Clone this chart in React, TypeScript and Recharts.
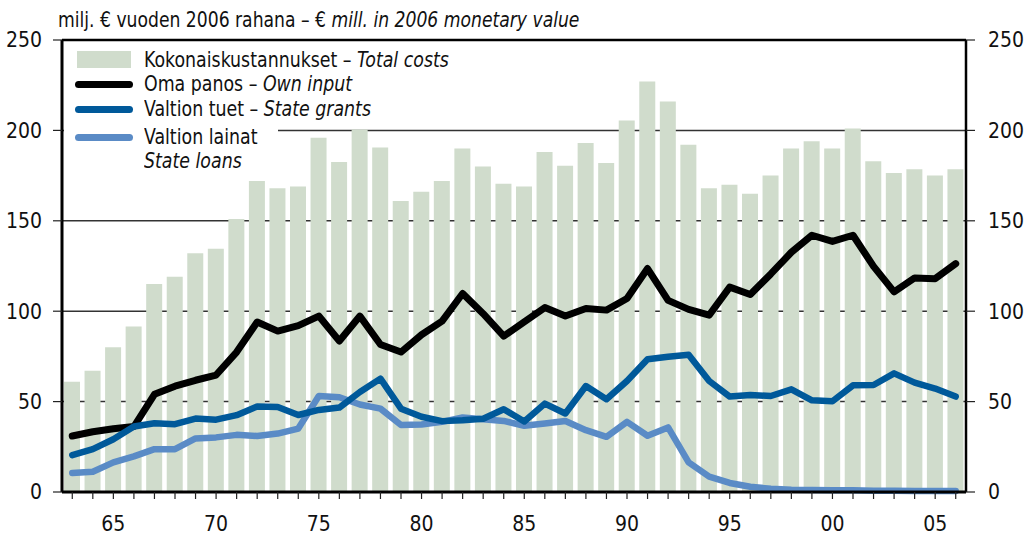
import React from "react";
import {
  ComposedChart,
  Bar,
  Line,
  XAxis,
  YAxis,
  CartesianGrid,
  ReferenceLine,
  Legend,
} from "recharts";

// values, € mill. in 2006 money
const years = [
  1963, 1964, 1965, 1966, 1967, 1968, 1969, 1970, 1971, 1972, 1973, 1974, 1975, 1976, 1977,
  1978, 1979, 1980, 1981, 1982, 1983, 1984, 1985, 1986, 1987, 1988, 1989, 1990, 1991, 1992,
  1993, 1994, 1995, 1996, 1997, 1998, 1999, 2000, 2001, 2002, 2003, 2004, 2005, 2006,
];

const totalCosts = [
  61, 67, 80, 91.5, 115, 119, 132, 134.5, 151, 172, 168, 169, 196, 182.5, 200.5,
  190.5, 161, 166, 172, 190, 180, 170.5, 169, 188, 180.5, 193, 182, 205.5, 227, 216,
  192, 168, 170, 165, 175, 190, 194, 190, 201, 183, 176.5, 178.5, 175, 178.5,
];

const ownInput = [
  31, 33.3, 35, 36.2, 54, 58.5, 61.8, 64.7, 77.4, 94, 89, 92, 97.3, 83.5, 97.3,
  81.6, 77.4, 87, 94.5, 109.8, 98.6, 86.2, 94.1, 102, 97.3, 101.5, 100.6, 107, 123.6, 106,
  101, 97.8, 113.3, 109.2, 120.6, 132.6, 142, 138.6, 142, 124.8, 110.7, 118.4, 118, 126.3,
];

const stateGrants = [
  20.4, 23.7, 29.2, 36.2, 38, 37.5, 40.6, 40, 42.5, 47.3, 47, 42.6, 45.4, 46.7, 55.3,
  62.7, 46.1, 41.6, 39.2, 39.7, 40.5, 45.8, 39, 48.9, 43.4, 58.6, 51.3, 61.4, 73.4, 74.8,
  75.9, 61.4, 52.8, 53.7, 53.1, 56.8, 50.7, 50.2, 59, 59.2, 65.6, 60.5, 57.2, 52.8,
];

const stateLoans = [
  10.5, 11.2, 16.4, 19.7, 23.7, 23.7, 29.6, 30.2, 31.6, 31, 32.3, 35.1, 53.1, 52.4, 48.4,
  46.1, 37.1, 37.3, 38.8, 41.2, 40.3, 39.3, 36.6, 37.9, 39.3, 34.2, 30.5, 38.8, 31.1, 35.7,
  16.4, 8.5, 5, 2.9, 1.8, 1.3, 1.1, 0.9, 0.9, 0.7, 0.7, 0.5, 0.5, 0.5,
];

const yTicks = [0, 50, 100, 150, 200, 250];

const data = years.map((y, i) => ({
  year: y,
  total: totalCosts[i],
  own: ownInput[i],
  grants: stateGrants[i],
  loans: stateLoans[i],
}));

const FONT = '"Liberation Sans Narrow", "DejaVu Sans Condensed", "Arial Narrow", sans-serif';
const GREEN = "#d0dccc";
const BLACK = "#000000";
const DARK_BLUE = "#00599a";
const LIGHT_BLUE = "#5a8bc6";

const legendRows = [
  { fi: "Kokonaiskustannukset – ", en: "Total costs", color: GREEN, kind: "bar", top: 18 },
  { fi: "Oma panos – ", en: "Own input", color: BLACK, kind: "line", top: 42 },
  { fi: "Valtion tuet – ", en: "State grants", color: DARK_BLUE, kind: "line", top: 67 },
  { fi: "Valtion lainat", en: "", color: LIGHT_BLUE, kind: "line", top: 95 },
];

const narrow = { transform: "scaleX(0.92)", transformOrigin: "0 50%" };

const renderLegend = () => (
  <div style={{ position: "relative", width: 214, height: 136, fontFamily: FONT, fontSize: 21, color: "#111" }}>
    {legendRows.map((r) =>
      r.kind === "bar" ? (
        <div key={r.fi} style={{ position: "absolute", left: 13, top: r.top - 9, width: 54, height: 17, background: r.color }} />
      ) : (
        <div key={r.fi} style={{ position: "absolute", left: 11, top: r.top - 3.5, width: 58, height: 7, borderRadius: 4, background: r.color }} />
      )
    )}
    {legendRows.map((r) => (
      <div key={"t" + r.fi} style={{ position: "absolute", left: 80, top: r.top - 12, height: 24, lineHeight: "24px", whiteSpace: "nowrap", ...narrow }}>
        {r.fi}
        <i>{r.en}</i>
      </div>
    ))}
    <div style={{ position: "absolute", left: 80, top: 119 - 12, height: 24, lineHeight: "24px", whiteSpace: "nowrap", ...narrow }}>
      <i>State loans</i>
    </div>
  </div>
);

const tickStyle = { fill: "#111", fontSize: 21, fontFamily: FONT };

export default function App() {
  return (
    <div style={{ position: "absolute", left: 0, top: 0, width: 1026, height: 538, background: "#fff" }}>
      <ComposedChart
        width={1026}
        height={538}
        data={data}
        margin={{ top: 40, right: 2, bottom: 6, left: 2 }}
        style={{ position: "absolute", left: 0, top: 0 }}
      >
        <CartesianGrid vertical={false} stroke="#333" strokeWidth={1.5} yAxisId="l" />
        <XAxis
          dataKey="year"
          interval={0}
          height={40}
          axisLine={{ stroke: BLACK, strokeWidth: 3 }}
          tickLine={{ stroke: "#222", strokeWidth: 1.2 }}
          tickSize={7}
          tickMargin={17}
          tick={tickStyle}
          tickFormatter={(v: number) => (v % 5 === 0 ? String(v).slice(2) : "")}
        />
        <YAxis
          yAxisId="l"
          domain={[0, 250]}
          ticks={yTicks}
          width={60}
          axisLine={{ stroke: BLACK, strokeWidth: 3 }}
          tickLine={{ stroke: "#222", strokeWidth: 1.2 }}
          tickSize={9}
          tickMargin={11}
          tick={tickStyle}
        />
        <YAxis
          yAxisId="r"
          orientation="right"
          domain={[0, 250]}
          ticks={yTicks}
          width={58}
          axisLine={{ stroke: BLACK, strokeWidth: 2.5 }}
          tickLine={{ stroke: "#222", strokeWidth: 1.2 }}
          tickSize={9}
          tickMargin={13}
          tick={tickStyle}
        />
        <Bar yAxisId="r" dataKey="total" fill={GREEN} barSize={16} isAnimationActive={false} />
        <ReferenceLine yAxisId="l" y={250} stroke={BLACK} strokeWidth={2.5} />
        <Line
          yAxisId="l"
          dataKey="loans"
          stroke={LIGHT_BLUE}
          strokeWidth={6.5}
          strokeLinecap="round"
          strokeLinejoin="round"
          dot={false}
          isAnimationActive={false}
        />
        <Line
          yAxisId="l"
          dataKey="own"
          stroke={BLACK}
          strokeWidth={7}
          strokeLinecap="round"
          strokeLinejoin="round"
          dot={false}
          isAnimationActive={false}
        />
        <Line
          yAxisId="l"
          dataKey="grants"
          stroke={DARK_BLUE}
          strokeWidth={6.5}
          strokeLinecap="round"
          strokeLinejoin="round"
          dot={false}
          isAnimationActive={false}
        />
        <Legend
          layout="horizontal"
          align="center"
          verticalAlign="middle"
          content={renderLegend}
          wrapperStyle={{ left: 64, top: 42, width: 214, height: 136, background: "#fff" }}
        />
      </ComposedChart>
      <div
        style={{
          position: "absolute",
          left: 58,
          top: 8,
          lineHeight: "24px",
          fontFamily: FONT,
          fontSize: 21,
          color: "#111",
          whiteSpace: "nowrap",
          transform: "scaleX(0.91)",
          transformOrigin: "0 50%",
        }}
      >
        milj. € vuoden 2006 rahana – € <i>mill. in 2006 monetary value</i>
      </div>
    </div>
  );
}
